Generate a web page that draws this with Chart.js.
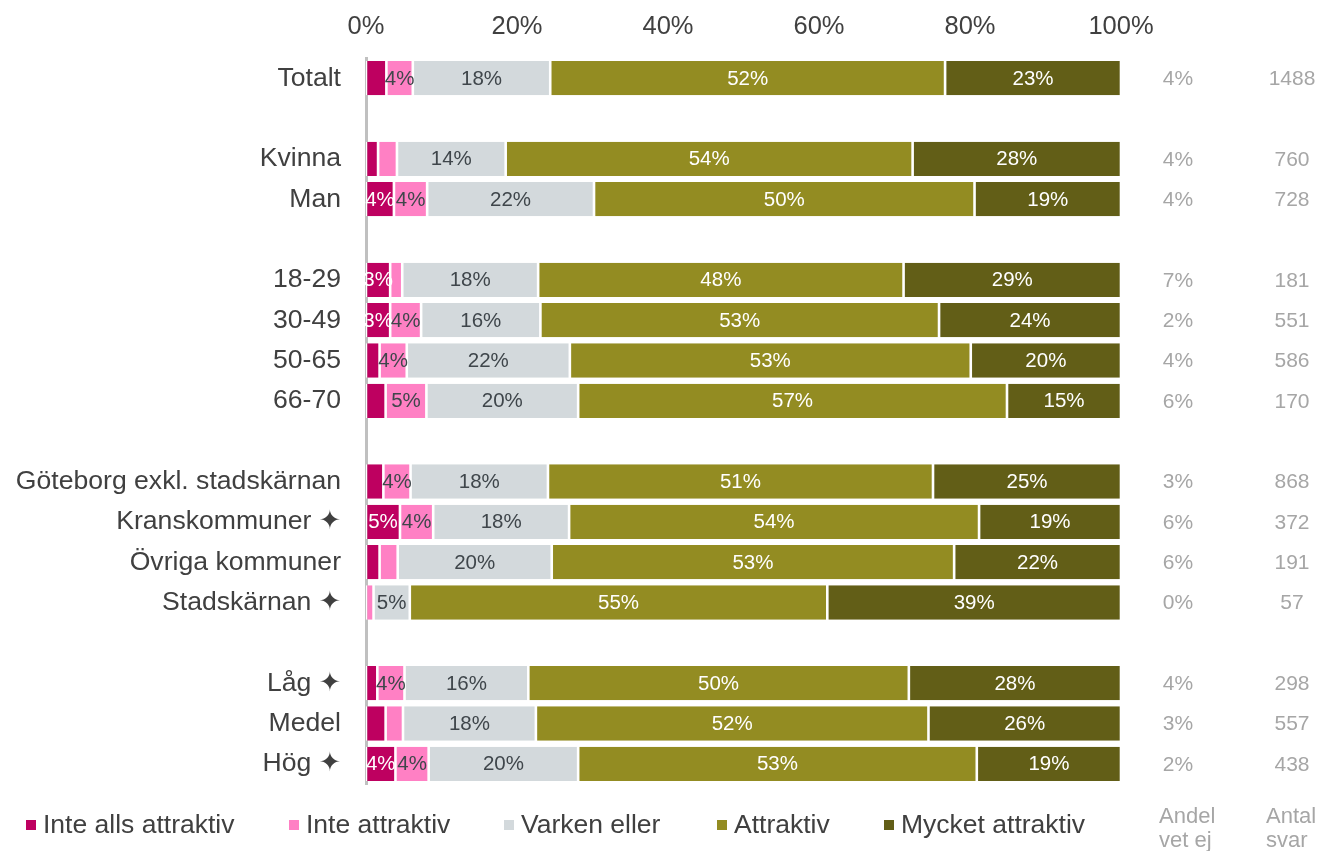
<!DOCTYPE html>
<html>
<head>
<meta charset="utf-8">
<script src="https://cdn.jsdelivr.net/npm/chart.js@4.4.1/dist/chart.umd.min.js"></script>
<style>
  html, body { margin: 0; padding: 0; background: #fff; }
  canvas { display: block; }
</style>
</head>
<body>
<canvas id="chart" width="1322" height="851"></canvas>
<script>
// kategorier (tomma rader = mellanrum mellan grupper)
const categories = ['Totalt', '', 'Kvinna', 'Man', '', '18-29', '30-49', '50-65', '66-70', '',
    'Göteborg exkl. stadskärnan', 'Kranskommuner ✦', 'Övriga kommuner', 'Stadskärnan ✦', '',
    'Låg ✦', 'Medel', 'Hög ✦'];

const inteAlls  = [2.7, null, 1.6, 3.7, null, 3.2, 3.2, 1.8, 2.6, null, 2.3, 4.5, 1.8, 0, null, 1.5, 2.6, 3.9];
const inte      = [3.5, null, 2.5, 4.4, null, 1.6, 4.1, 3.6, 5.4, null, 3.6, 4.4, 2.4, 1.0, null, 3.6, 2.3, 4.4];
const varken    = [18.2, null, 14.4, 22.1, null, 18.0, 15.8, 21.6, 20.1, null, 18.2, 18.0, 20.4, 4.8, null, 16.4, 17.6, 19.8];
const attraktiv = [52.3, null, 53.9, 50.4, null, 48.4, 52.8, 53.1, 56.8, null, 51.0, 54.3, 53.3, 55.3, null, 50.4, 52.0, 52.8];
const mycket    = [23.3, null, 27.6, 19.4, null, 28.8, 24.1, 19.9, 15.1, null, 24.9, 18.8, 22.1, 38.9, null, 28.1, 25.5, 19.1];

const andelVetEj = ['4%', null, '4%', '4%', null, '7%', '2%', '4%', '6%', null, '3%', '6%', '6%', '0%', null, '4%', '3%', '2%'];
const antalSvar  = ['1488', null, '760', '728', null, '181', '551', '586', '170', null, '868', '372', '191', '57', null, '298', '557', '438'];

const xTicks = [0, 20, 40, 60, 80, 100];

const FONT = "'Liberation Sans', Arial, 'DejaVu Sans', sans-serif";
const TEXT = '#404040';
const GREY = '#a6a6a6';

const series = [
    { label: 'Inte alls attraktiv', data: inteAlls,  color: '#be0060', text: '#ffffff' },
    { label: 'Inte attraktiv',      data: inte,      color: '#ff80c4', text: '#3f464b' },
    { label: 'Varken eller',        data: varken,    color: '#d3d9dc', text: '#3f464b' },
    { label: 'Attraktiv',           data: attraktiv, color: '#938c22', text: '#ffffff' },
    { label: 'Mycket attraktiv',    data: mycket,    color: '#625e17', text: '#ffffff' },
];

// etiketter inne i staplarna
const barLabels = {
    id: 'barLabels',
    afterDatasetsDraw(chart) {
        const ctx = chart.ctx;
        ctx.save();
        ctx.font = '20.5px ' + FONT;
        ctx.textAlign = 'center';
        ctx.textBaseline = 'middle';
        chart.data.datasets.forEach((ds, i) => {
            chart.getDatasetMeta(i).data.forEach((el, j) => {
                const v = ds.data[j];
                if (v == null || v < 3) return;
                ctx.fillStyle = series[i].text;
                ctx.fillText(Math.round(v) + '%', (el.x + el.base) / 2, el.y + 1);
            });
        });
        ctx.restore();
    }
};

// kolumner till höger + förklaring
const sideTexts = {
    id: 'sideTexts',
    afterDraw(chart) {
        const ctx = chart.ctx;
        const y = chart.scales.y;
        ctx.save();
        ctx.fillStyle = GREY;
        ctx.font = '21px ' + FONT;
        ctx.textAlign = 'center';
        ctx.textBaseline = 'middle';
        categories.forEach((c, i) => {
            if (andelVetEj[i] == null) return;
            const py = y.getPixelForValue(i) + 1;
            ctx.fillText(andelVetEj[i], 1178, py);
            ctx.fillText(antalSvar[i], 1292, py);
        });

        ctx.font = '22px ' + FONT;
        ctx.textAlign = 'left';
        ctx.textBaseline = 'alphabetic';
        ctx.fillText('Andel', 1159, 823);
        ctx.fillText('vet ej', 1159, 847);
        ctx.fillText('Antal', 1266, 823);
        ctx.fillText('svar', 1266, 847);

        // förklaring
        const legendX = [26, 289, 504, 717, 884];
        ctx.font = '26.5px ' + FONT;
        ctx.textBaseline = 'middle';
        series.forEach((s, i) => {
            ctx.fillStyle = s.color;
            ctx.fillRect(legendX[i], 820, 10, 10);
            ctx.fillStyle = TEXT;
            ctx.fillText(s.label, legendX[i] + 17, 826);
        });
        ctx.restore();
    }
};

new Chart(document.getElementById('chart'), {
    type: 'bar',
    data: {
        labels: categories,
        datasets: series.map(s => ({
            label: s.label,
            data: s.data,
            backgroundColor: s.color,
            borderColor: '#ffffff',
            borderWidth: { top: 0, bottom: 0, left: 1.3, right: 1.3 },
            borderSkipped: false,
            categoryPercentage: 1,
            barPercentage: 0.85,
        })),
    },
    options: {
        indexAxis: 'y',
        responsive: false,
        animation: false,
        devicePixelRatio: 1,
        layout: { padding: { left: 0, top: 0, right: 201, bottom: 67 } },
        scales: {
            x: {
                position: 'top',
                stacked: true,
                min: 0,
                max: 100,
                afterBuildTicks: scale => { scale.ticks = xTicks.map(v => ({ value: v })); },
                afterFit: scale => { scale.height = 58; },
                grid: { display: false },
                border: { display: false },
                ticks: {
                    callback: v => v + '%',
                    color: TEXT,
                    padding: 8,
                    font: { size: 25.5, family: FONT },
                },
            },
            y: {
                stacked: true,
                afterFit: scale => { scale.width = 366; },
                grid: { display: false, drawTicks: false },
                border: { display: true, color: '#c0c0c0', width: 3 },
                ticks: {
                    autoSkip: false,
                    color: TEXT,
                    padding: 25,
                    font: { size: 26.6, family: FONT },
                },
            },
        },
        plugins: {
            legend: { display: false },
            tooltip: { enabled: false },
        },
    },
    plugins: [barLabels, sideTexts],
});
</script>
</body>
</html>
